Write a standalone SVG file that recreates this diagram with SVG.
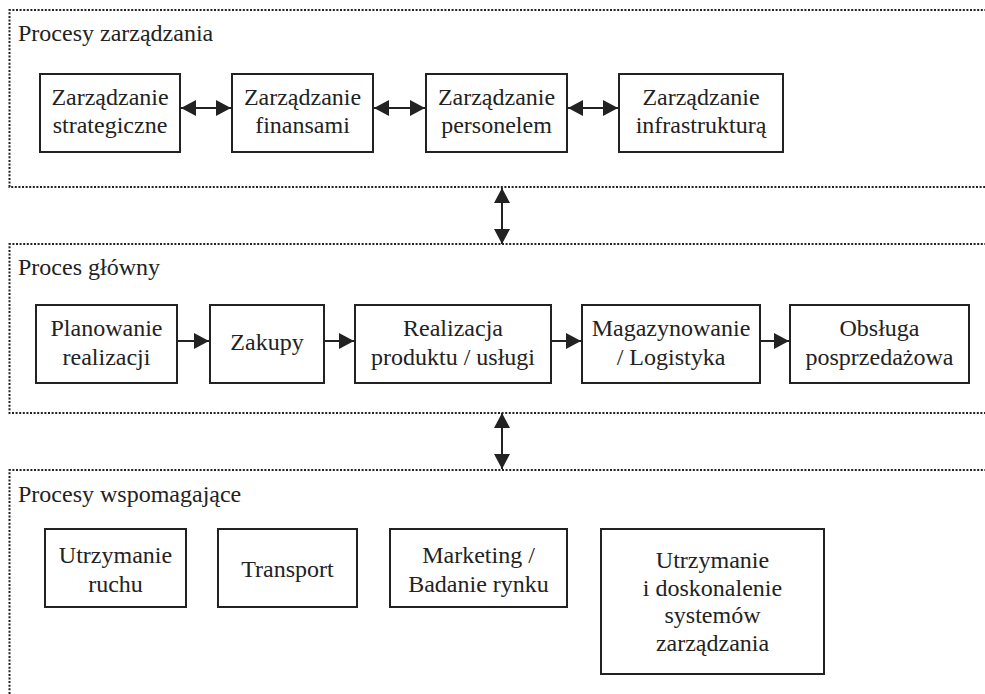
<svg xmlns="http://www.w3.org/2000/svg" width="985" height="694" viewBox="0 0 985 694">
<style>
  .frame{fill:none;stroke:#222;stroke-width:2;stroke-dasharray:2 1.6}
  .box{fill:#fff;stroke:#222;stroke-width:2}
  text{font-family:"Liberation Serif","Times New Roman",serif;font-size:24px;fill:#222}
  .c{text-anchor:middle}
  .conn{stroke:#222;stroke-width:2;fill:none}
</style>
<defs>
  <marker id="ah" markerUnits="userSpaceOnUse" markerWidth="16" markerHeight="18" refX="15" refY="8" orient="auto-start-reverse" viewBox="0 0 16 16">
    <path d="M0,0 L15,8 L0,16 z" fill="#222"/>
  </marker>
</defs>

<g id="frame-zarzadzania">
  <path class="frame" d="M990,10 H9.5 V187 H990"/>
  <text x="18" y="41">Procesy zarządzania</text>
</g>
<g id="frame-glowny">
  <path class="frame" d="M990,244 H9.5 V413 H990"/>
  <text x="18" y="275">Proces główny</text>
</g>
<g id="frame-wspomagajace">
  <path class="frame" d="M990,470 H9.5 V700"/>
  <text x="18" y="502">Procesy wspomagające</text>
</g>

<g id="n-strategiczne">
  <rect class="box" x="40" y="74" width="140" height="78"/>
  <text class="c" x="110" y="105">Zarządzanie</text>
  <text class="c" x="110" y="133">strategiczne</text>
</g>
<g id="n-finansami">
  <rect class="box" x="232" y="74" width="141" height="78"/>
  <text class="c" x="302.5" y="105">Zarządzanie</text>
  <text class="c" x="302.5" y="133">finansami</text>
</g>
<g id="n-personelem">
  <rect class="box" x="426" y="74" width="141" height="78"/>
  <text class="c" x="496.5" y="105">Zarządzanie</text>
  <text class="c" x="496.5" y="133">personelem</text>
</g>
<g id="n-infrastruktura">
  <rect class="box" x="619" y="74" width="164" height="78"/>
  <text class="c" x="701" y="105">Zarządzanie</text>
  <text class="c" x="701" y="133">infrastrukturą</text>
</g>

<g id="n-planowanie">
  <rect class="box" x="36" y="305" width="141" height="78"/>
  <text class="c" x="106.5" y="336">Planowanie</text>
  <text class="c" x="106.5" y="365">realizacji</text>
</g>
<g id="n-zakupy">
  <rect class="box" x="210" y="305" width="114" height="78"/>
  <text class="c" x="267" y="350">Zakupy</text>
</g>
<g id="n-realizacja">
  <rect class="box" x="355" y="305" width="196" height="78"/>
  <text class="c" x="453" y="336">Realizacja</text>
  <text class="c" x="453" y="365">produktu / usługi</text>
</g>
<g id="n-magazynowanie">
  <rect class="box" x="582" y="305" width="178" height="78"/>
  <text class="c" x="671" y="336">Magazynowanie</text>
  <text class="c" x="671" y="365">/ Logistyka</text>
</g>
<g id="n-obsluga">
  <rect class="box" x="790" y="305" width="179" height="78"/>
  <text class="c" x="879.5" y="336">Obsługa</text>
  <text class="c" x="879.5" y="365">posprzedażowa</text>
</g>

<g id="n-utrzymanie-ruchu">
  <rect class="box" x="45" y="529" width="141" height="78"/>
  <text class="c" x="115.5" y="563">Utrzymanie</text>
  <text class="c" x="115.5" y="592">ruchu</text>
</g>
<g id="n-transport">
  <rect class="box" x="218" y="529" width="139" height="78"/>
  <text class="c" x="287.5" y="577">Transport</text>
</g>
<g id="n-marketing">
  <rect class="box" x="390" y="529" width="177" height="78"/>
  <text class="c" x="478.5" y="563">Marketing /</text>
  <text class="c" x="478.5" y="592">Badanie rynku</text>
</g>
<g id="n-systemy">
  <rect class="box" x="601" y="529" width="223" height="145"/>
  <text class="c" x="712.5" y="568">Utrzymanie</text>
  <text class="c" x="712.5" y="596">i doskonalenie</text>
  <text class="c" x="712.5" y="623">systemów</text>
  <text class="c" x="712.5" y="651">zarządzania</text>
</g>

<g id="connectors">
  <line class="conn" x1="181" y1="108" x2="231" y2="108" marker-start="url(#ah)" marker-end="url(#ah)"/>
  <line class="conn" x1="374" y1="108" x2="425" y2="108" marker-start="url(#ah)" marker-end="url(#ah)"/>
  <line class="conn" x1="568" y1="108" x2="618" y2="108" marker-start="url(#ah)" marker-end="url(#ah)"/>
  <line class="conn" x1="178" y1="341" x2="209" y2="341" marker-end="url(#ah)"/>
  <line class="conn" x1="325" y1="341" x2="354" y2="341" marker-end="url(#ah)"/>
  <line class="conn" x1="552" y1="341" x2="581" y2="341" marker-end="url(#ah)"/>
  <line class="conn" x1="761" y1="341" x2="789" y2="341" marker-end="url(#ah)"/>
  <line class="conn" x1="502" y1="188" x2="502" y2="244" marker-start="url(#ah)" marker-end="url(#ah)"/>
  <line class="conn" x1="502" y1="413" x2="502" y2="469" marker-start="url(#ah)" marker-end="url(#ah)"/>
</g>
</svg>
